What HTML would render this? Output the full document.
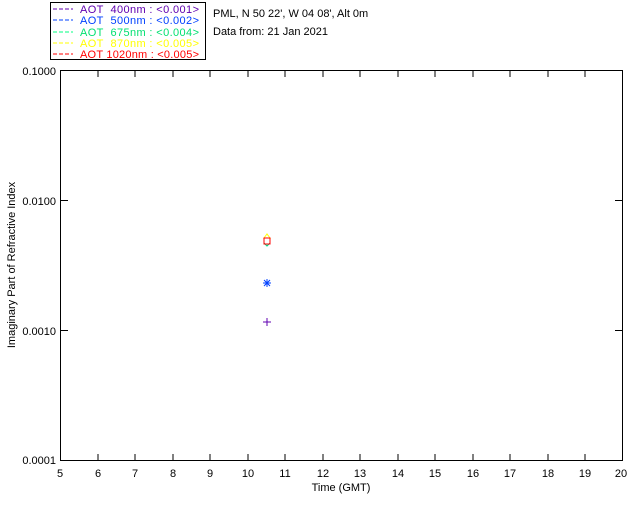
<!DOCTYPE html>
<html><head><style>
body{margin:0;background:#fff;}
svg{display:block;font-family:"Liberation Sans",sans-serif;}
text{white-space:pre;}
</style></head><body>
<svg width="640" height="512" xmlns="http://www.w3.org/2000/svg">
<rect width="640" height="512" fill="#fff"/>
<rect x="50.5" y="2.5" width="155" height="57" fill="none" stroke="#000"/>
<g font-size="11">
<line x1="53" y1="9" x2="73" y2="9" stroke="#6000b0" stroke-dasharray="4,2"/><text x="80" y="13" fill="#6000b0" textLength="119">AOT  400nm : &lt;0.001&gt;</text>
<line x1="53" y1="20" x2="73" y2="20" stroke="#0040ff" stroke-dasharray="4,2"/><text x="80" y="24" fill="#0040ff" textLength="119">AOT  500nm : &lt;0.002&gt;</text>
<line x1="53" y1="32" x2="73" y2="32" stroke="#00ff80" stroke-dasharray="4,2"/><text x="80" y="36" fill="#00e070" textLength="119">AOT  675nm : &lt;0.004&gt;</text>
<line x1="53" y1="43" x2="73" y2="43" stroke="#ffff00" stroke-dasharray="4,2"/><text x="80" y="47" fill="#ffff00" textLength="119">AOT  870nm : &lt;0.005&gt;</text>
<line x1="53" y1="54" x2="73" y2="54" stroke="#ff0000" stroke-dasharray="4,2"/><text x="80" y="58" fill="#ff0000" textLength="119">AOT 1020nm : &lt;0.005&gt;</text>
<text x="213" y="17" fill="#000">PML, N 50 22', W 04 08', Alt 0m</text>
<text x="213" y="35" fill="#000">Data from: 21 Jan 2021</text>
</g>
<rect x="60.5" y="70.5" width="562" height="390" fill="none" stroke="#000"/>
<g stroke="#000">
<line x1="98" y1="460" x2="98" y2="454"/><line x1="98" y1="71" x2="98" y2="77"/>
<line x1="135" y1="460" x2="135" y2="454"/><line x1="135" y1="71" x2="135" y2="77"/>
<line x1="173" y1="460" x2="173" y2="454"/><line x1="173" y1="71" x2="173" y2="77"/>
<line x1="210" y1="460" x2="210" y2="454"/><line x1="210" y1="71" x2="210" y2="77"/>
<line x1="248" y1="460" x2="248" y2="454"/><line x1="248" y1="71" x2="248" y2="77"/>
<line x1="285" y1="460" x2="285" y2="454"/><line x1="285" y1="71" x2="285" y2="77"/>
<line x1="323" y1="460" x2="323" y2="454"/><line x1="323" y1="71" x2="323" y2="77"/>
<line x1="360" y1="460" x2="360" y2="454"/><line x1="360" y1="71" x2="360" y2="77"/>
<line x1="398" y1="460" x2="398" y2="454"/><line x1="398" y1="71" x2="398" y2="77"/>
<line x1="435" y1="460" x2="435" y2="454"/><line x1="435" y1="71" x2="435" y2="77"/>
<line x1="473" y1="460" x2="473" y2="454"/><line x1="473" y1="71" x2="473" y2="77"/>
<line x1="510" y1="460" x2="510" y2="454"/><line x1="510" y1="71" x2="510" y2="77"/>
<line x1="548" y1="460" x2="548" y2="454"/><line x1="548" y1="71" x2="548" y2="77"/>
<line x1="585" y1="460" x2="585" y2="454"/><line x1="585" y1="71" x2="585" y2="77"/>
<line x1="61" y1="200.5" x2="68" y2="200.5"/><line x1="622" y1="200.5" x2="615" y2="200.5"/>
<line x1="61" y1="330.5" x2="68" y2="330.5"/><line x1="622" y1="330.5" x2="615" y2="330.5"/>
</g>
<g font-size="11" fill="#000" text-anchor="middle">
<text x="60" y="477">5</text><text x="98" y="477">6</text><text x="135" y="477">7</text><text x="173" y="477">8</text><text x="210" y="477">9</text><text x="248" y="477">10</text><text x="285" y="477">11</text><text x="323" y="477">12</text><text x="360" y="477">13</text><text x="398" y="477">14</text><text x="435" y="477">15</text><text x="473" y="477">16</text><text x="510" y="477">17</text><text x="548" y="477">18</text><text x="585" y="477">19</text><text x="621" y="477">20</text>
<text x="341" y="491">Time (GMT)</text>
</g>
<g font-size="11" fill="#000" text-anchor="end">
<text x="56" y="75">0.1000</text><text x="56" y="205">0.0100</text><text x="56" y="335">0.0010</text><text x="56" y="464">0.0001</text>
</g>
<text transform="translate(15,265) rotate(-90)" font-size="11" text-anchor="middle" fill="#000">Imaginary Part of Refractive Index</text>
<path d="M267 318v8M263 322h8" stroke="#6000b0"/>
<path d="M267 279v8M263 283h8M264 280l6 6M270 280l-6 6" stroke="#0040ff"/>
<path d="M264 243l3 3l3-3" stroke="#00d080" fill="none"/>
<path d="M264 238l3-4l3 4z" stroke="#ffff00" fill="none"/>
<rect x="264" y="238" width="6" height="6" fill="none" stroke="#ff0000"/>
</svg>
</body></html>
